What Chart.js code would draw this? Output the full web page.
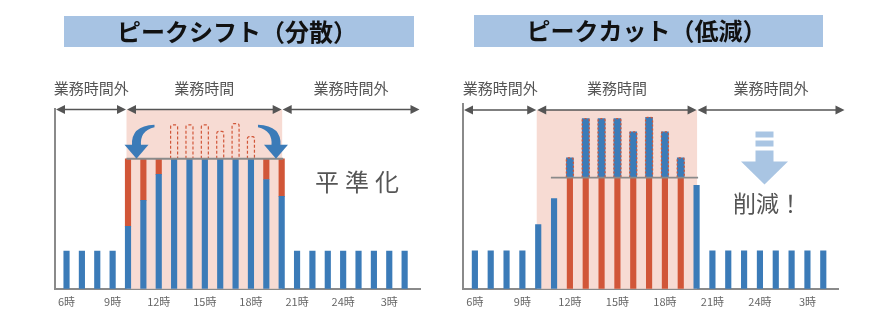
<!DOCTYPE html>
<html lang="ja">
<head>
<meta charset="utf-8">
<script src="https://cdn.jsdelivr.net/npm/chart.js@4.4.1/dist/chart.umd.min.js"></script>
<style>
  html, body { margin: 0; padding: 0; background: #fff; }
  .wrap { position: relative; width: 896px; height: 330px; }
  .wrap canvas { position: absolute; top: 0; }
</style>
</head>
<body>
<div class="wrap">
  <canvas id="shiftChart" width="448" height="330" style="left:0"></canvas>
  <canvas id="cutChart" width="448" height="330" style="left:448px"></canvas>
</div>
<script>
// 時間帯（6時〜翌4時）
const hourLabels = ['6時', '7時', '8時', '9時', '10時', '11時', '12時', '13時', '14時', '15時', '16時', '17時',
                    '18時', '19時', '20時', '21時', '22時', '23時', '24時', '1時', '2時', '3時', '4時'];
const tickIndex = [0, 3, 6, 9, 12, 15, 18, 21];
const businessRange = [4, 14];   // 10時〜20時
const zoneLabels = ['業務時間外', '業務時間', '業務時間外'];

// ピークシフト（分散）
const shiftBase  = [29, 29, 29, 29, 48, 68, 88, 100, 100, 100, 100, 100, 100, 84, 71, 29, 29, 29, 29, 29, 29, 29, 29];
const shiftMoved = [0, 0, 0, 0, 52, 32, 12, 0, 0, 0, 0, 0, 0, 16, 29, 0, 0, 0, 0, 0, 0, 0, 0];
const shiftPeak  = [null, null, null, null, null, null, null, 126, 126, 126, 121, 127, 117, null, null,
                    null, null, null, null, null, null, null, null];
const shiftLevel = 100;

// ピークカット（低減）
const cutDemand = [29, 29, 29, 29, 49, 69, 100, 130, 130, 130, 120, 131, 120, 100, 79, 29, 29, 29, 29, 29, 29, 29, 29];
const cutLimit = 85;

const BLUE = '#3b7bb8';
const RED = '#d15638';
const PINK = '#f7dbd3';
const GRAY = '#8a8a8a';
const FONT = '"Noto Sans CJK JP", "Noto Sans", sans-serif';

function points(values, fn) {
    return values.map((v, i) => (v == null ? null : fn(v, i))).filter(p => p);
}

function drawDoubleArrow(ctx, xa, xb, y) {
    const len = 9, half = 4.5;
    ctx.strokeStyle = '#555';
    ctx.fillStyle = '#555';
    ctx.lineWidth = 1.6;
    ctx.beginPath();
    ctx.moveTo(xa + 4, y);
    ctx.lineTo(xb - 4, y);
    ctx.stroke();
    ctx.beginPath();
    ctx.moveTo(xa, y);
    ctx.lineTo(xa + len, y - half);
    ctx.lineTo(xa + len, y + half);
    ctx.closePath();
    ctx.moveTo(xb, y);
    ctx.lineTo(xb - len, y - half);
    ctx.lineTo(xb - len, y + half);
    ctx.closePath();
    ctx.fill();
}

function outlineBar(ctx, el, dash, width) {
    const l = el.x - el.width / 2, r = el.x + el.width / 2;
    const top = el.y, base = el.base, rad = 2;
    ctx.save();
    ctx.strokeStyle = RED;
    ctx.lineWidth = width;
    ctx.setLineDash(dash);
    ctx.beginPath();
    ctx.moveTo(l, base);
    ctx.lineTo(l, top + rad);
    ctx.quadraticCurveTo(l, top, l + rad, top);
    ctx.lineTo(r - rad, top);
    ctx.quadraticCurveTo(r, top, r, top + rad);
    ctx.lineTo(r, base);
    ctx.stroke();
    ctx.restore();
}

// 曲線の矢印（ピークを左右へ移す）。先細りの軸＋三角の矢じり
function drawCurvedArrow(ctx, tipX, tipY, dir) {
    const px = dx => tipX + dir * dx;
    ctx.save();
    ctx.fillStyle = BLUE;
    ctx.beginPath();
    ctx.moveTo(px(18), tipY - 34);
    ctx.quadraticCurveTo(px(-6), tipY - 33, px(-4.5), tipY - 13);
    ctx.lineTo(px(4.5), tipY - 13);
    ctx.quadraticCurveTo(px(3), tipY - 28, px(18), tipY - 31.5);
    ctx.closePath();
    ctx.fill();
    ctx.beginPath();
    ctx.moveTo(tipX - 12, tipY - 14);
    ctx.lineTo(tipX + 12, tipY - 14);
    ctx.lineTo(tipX, tipY);
    ctx.closePath();
    ctx.fill();
    ctx.restore();
}

const decoPlugin = {
    id: 'deco',
    beforeDatasetsDraw(chart, args, opts) {
        const { ctx, chartArea, scales: { x } } = chart;
        const x0 = x.getPixelForValue(businessRange[0]) - 1.5;
        const x1 = x.getPixelForValue(businessRange[1]) + 0.5;
        ctx.save();
        ctx.fillStyle = PINK;
        ctx.fillRect(x0, opts.arrowY, x1 - x0, chartArea.bottom - opts.arrowY);
        ctx.restore();
    },
    afterDatasetsDraw(chart, args, opts) {
        const { ctx, scales: { x, y } } = chart;
        const x0 = x.getPixelForValue(businessRange[0]) - 1.5;
        const x1 = x.getPixelForValue(businessRange[1]) + 0.5;

        // 破線で描く元のピーク
        chart.data.datasets.forEach((ds, i) => {
            if (!ds.outline) return;
            chart.getDatasetMeta(i).data.forEach(el => outlineBar(ctx, el, ds.outline.dash, ds.outline.width));
        });

        // 平準化ライン / カットライン
        const lineY = y.getPixelForValue(opts.lineValue);
        const lx0 = opts.lineFrom != null ? x.getPixelForValue(opts.lineFrom) : x0;
        ctx.save();
        ctx.strokeStyle = GRAY;
        ctx.lineWidth = 1.8;
        ctx.beginPath();
        ctx.moveTo(lx0, lineY);
        ctx.lineTo(x1 + 1, lineY);
        ctx.stroke();
        ctx.restore();

        if (opts.curves) {
            drawCurvedArrow(ctx, x.getPixelForValue(businessRange[0]) + 8.5, lineY, 1);
            drawCurvedArrow(ctx, x.getPixelForValue(businessRange[1]) - 5.7, lineY, -1);
        }
    },
    afterDraw(chart, args, opts) {
        const { ctx, chartArea, scales: { x } } = chart;
        const x0 = x.getPixelForValue(businessRange[0]) - 1.5;
        const x1 = x.getPixelForValue(businessRange[1]) + 0.5;
        ctx.save();

        // 縦軸
        ctx.strokeStyle = GRAY;
        ctx.lineWidth = 2;
        ctx.beginPath();
        ctx.moveTo(chartArea.left, chartArea.top);
        ctx.lineTo(chartArea.left, chartArea.bottom + 1);
        ctx.stroke();

        // 見出し
        const b = opts.titleBox;
        ctx.fillStyle = '#a7c3e3';
        ctx.fillRect(b[0], b[1], b[2], b[3]);
        ctx.fillStyle = '#111';
        ctx.font = `bold 24px ${FONT}`;
        ctx.textAlign = 'center';
        ctx.textBaseline = 'middle';
        ctx.fillText(opts.title, b[0] + b[2] / 2 - 2, b[1] + b[3] / 2);

        // 時間帯の矢印とラベル
        const edges = [chartArea.left + 1, x0, x1, chartArea.right + opts.arrowOver];
        zoneLabels.forEach((label, i) => {
            drawDoubleArrow(ctx, edges[i] + (i ? 0.5 : 0), edges[i + 1] - 0.5, opts.arrowY);
            ctx.fillStyle = '#555';
            ctx.font = `15px ${FONT}`;
            ctx.fillText(label, (edges[i] + edges[i + 1]) / 2, opts.labelY);
        });

        // 注記
        if (opts.downArrow) {
            const cx = opts.downArrow[0], top = opts.downArrow[1];
            ctx.fillStyle = '#a9c5e3';
            ctx.fillRect(cx - 9, top, 18, 6);
            ctx.fillRect(cx - 9, top + 9, 18, 6);
            ctx.fillRect(cx - 9, top + 19, 18, 12);
            ctx.beginPath();
            ctx.moveTo(cx - 23.5, top + 30);
            ctx.lineTo(cx + 23.5, top + 30);
            ctx.lineTo(cx, top + 53);
            ctx.closePath();
            ctx.fill();
        }
        const n = opts.note;
        ctx.fillStyle = '#555';
        ctx.font = `${n.size}px ${FONT}`;
        ctx.textAlign = 'left';
        ctx.letterSpacing = n.spacing + 'px';
        ctx.fillText(n.text, n.x, n.y);
        ctx.restore();
    }
};

function makeOptions(cfg) {
    return {
        responsive: false,
        animation: false,
        events: [],
        layout: { padding: { top: cfg.top, left: cfg.left, right: cfg.right, bottom: 16 } },
        datasets: { bar: { grouped: false, borderWidth: 0 } },
        plugins: {
            legend: { display: false },
            tooltip: { enabled: false },
            deco: cfg.deco
        },
        scales: {
            x: {
                type: 'linear',
                offset: false,
                min: -0.75,
                max: cfg.xMax,
                grid: { display: false, drawTicks: false },
                border: { display: true, color: GRAY, width: 2 },
                afterBuildTicks: scale => { scale.ticks = tickIndex.map(v => ({ value: v })); },
                ticks: {
                    padding: 6,
                    color: '#666',
                    font: { size: 11, family: FONT },
                    callback: v => hourLabels[v]
                }
            },
            y: { display: false, min: 0, max: cfg.yMax }
        }
    };
}

new Chart(document.getElementById('shiftChart'), {
    type: 'bar',
    data: {
        datasets: [
            {
                data: points(shiftBase, (v, i) => ({ x: i, y: v })),
                backgroundColor: BLUE,
                barThickness: 5.5
            },
            {
                data: points(shiftMoved, (v, i) => (v ? { x: i, y: [shiftBase[i], shiftBase[i] + v] } : null)),
                backgroundColor: RED,
                barThickness: 5.5
            },
            {
                data: points(shiftPeak, (v, i) => ({ x: i, y: [shiftLevel, v] })),
                backgroundColor: 'rgba(0,0,0,0)',
                barThickness: 7,
                outline: { dash: [3, 2], width: 1.2 }
            }
        ]
    },
    options: makeOptions({
        top: 108, left: 55, right: 28, xMax: 23, yMax: 139,
        deco: {
            title: 'ピークシフト（分散）',
            titleBox: [64, 16, 350, 31],
            arrowY: 109.5, labelY: 88, arrowOver: 0,
            lineValue: shiftLevel,
            curves: true,
            note: { text: '平準化', x: 315, y: 182, size: 24, spacing: 6 }
        }
    }),
    plugins: [decoPlugin]
});

new Chart(document.getElementById('cutChart'), {
    type: 'bar',
    data: {
        datasets: [
            {
                data: points(cutDemand, (v, i) => (v <= cutLimit ? { x: i, y: v } : null)),
                backgroundColor: BLUE,
                barThickness: 5.5
            },
            {
                data: points(cutDemand, (v, i) => (v > cutLimit ? { x: i, y: cutLimit } : null)),
                backgroundColor: RED,
                barThickness: 5.5
            },
            {
                data: points(cutDemand, (v, i) => (v > cutLimit ? { x: i, y: [cutLimit, v] } : null)),
                backgroundColor: BLUE,
                barThickness: 7,
                outline: { dash: [2, 2], width: 1.3 }
            }
        ]
    },
    options: makeOptions({
        top: 103, left: 15, right: 58, xMax: 22.93, yMax: 142,
        deco: {
            title: 'ピークカット（低減）',
            titleBox: [26, 15, 349, 32],
            arrowY: 110, labelY: 88, arrowOver: 7,
            lineValue: cutLimit,
            lineFrom: 4.8,
            downArrow: [316.5, 131.5],
            note: { text: '削減！', x: 285, y: 203, size: 23, spacing: 0 }
        }
    }),
    plugins: [decoPlugin]
});
</script>
</body>
</html>
